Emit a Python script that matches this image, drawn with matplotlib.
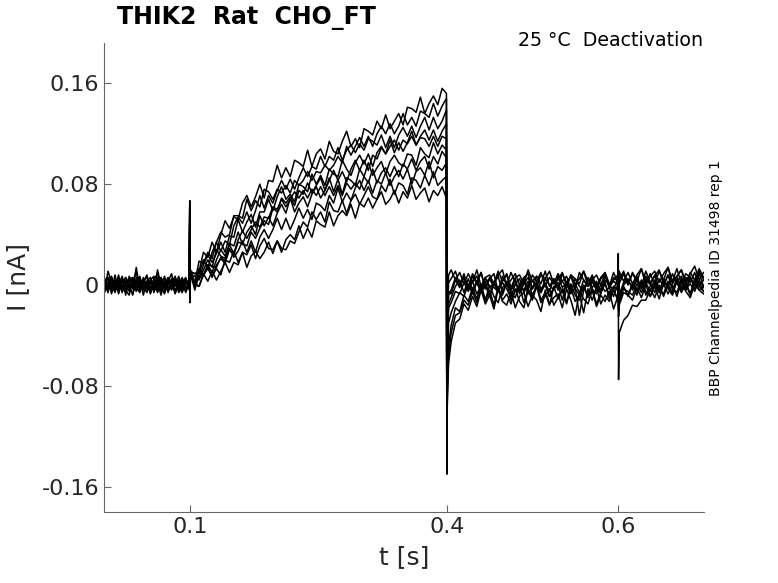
import numpy as np
import matplotlib.pyplot as plt

# current traces in pA, one row per sweep
# baseline before the step (0 .. 0.0995 s)
pre_vals = [
    [3, -5, 6, -2, 8, -6, 1, 5, -3, 14, -4, 2, 7, -7, 4, -1, 6, -5, 3, 9, -6, 2, -3, 5, -1],
    [-2, 6, -7, 3, 0, 7, -4, -8, 5, 2, -5, 6, -1, 4, -6, 12, 0, 7, -3, 2, -7, 4, 1, -5, 3],
    [5, 0, -4, 8, -5, 2, 6, -2, -7, 3, 7, -3, 1, -6, 4, 9, -1, -7, 3, 0, 5, -4, 2, 6, -3],
    [-5, 11, 2, -6, 6, -1, -4, 7, 0, -3, 5, -8, 3, 6, -2, -5, 2, 5, -6, 3, -1, 7, -4, 0, 4],
    [2, -6, 5, 0, -3, 6, -8, 3, 5, -2, -6, 2, 8, -3, 0, 4, -5, 1, 6, -2, 3, -6, 0, 5, -4],
    [0, 6, -3, -5, 4, -2, 3, 0, -8, 6, 2, -3, -5, 4, 7, -6, 3, -2, 0, 5, -4, 1, 6, -3, 2],
    [-3, 2, 7, -4, -1, 5, 0, -5, 3, 10, -3, 4, 0, -6, 2, -3, 6, 0, -5, 2, 7, -2, -6, 3, 1],
    [6, -3, 0, 4, -7, 3, 5, -3, 2, -5, 3, 0, -6, 4, -3, 2, -8, 3, 1, -4, 5, -1, 3, -6, 2],
    [-6, 2, -2, 3, 1, -5, 6, 1, -3, 0, 6, -4, 3, -2, 5, -5, 2, -3, 4, 2, -6, 1, 4, -2, 0],
    [2, -2, 3, -5, 4, 0, -6, 5, 6, -4, 0, 3, -3, 2, -5, 6, -3, 2, -2, -3, 4, -1, -5, 3, 1],
]

# capacitive transient at step onset
onset_t = [0.1, 0.1003]
onset_vals = [[67, -14], [60, -10], [55, -12], [62, -8], [50, -11],
              [58, -9], [45, -13], [52, -7], [48, -10], [40, -6]]

# during the step (0.1008 .. 0.3995 s)
step_vals = [
    [10, 9, 11, 26, 22, 34, 26, 40, 51, 45, 54, 52, 65, 71, 62, 70, 80, 69, 83, 82,
     95, 85, 93, 86, 99, 97, 94, 107, 94, 104, 108, 100, 114, 106, 104, 114, 122, 110, 116, 109,
     124, 122, 119, 130, 124, 135, 124, 130, 136, 127, 141, 140, 137, 149, 136, 144, 150, 143, 156, 152],
    [12, 2, 19, 17, 26, 21, 34, 42, 38, 40, 55, 55, 53, 68, 59, 67, 62, 76, 74, 68,
     76, 73, 79, 73, 83, 79, 83, 90, 83, 90, 89, 95, 91, 95, 102, 97, 110, 103, 110, 117,
     110, 118, 110, 120, 126, 120, 128, 120, 126, 136, 127, 133, 126, 138, 136, 133, 144, 134, 142, 148],
    [11, 9, 9, 20, 13, 26, 34, 27, 35, 32, 47, 54, 49, 58, 49, 59, 71, 61, 71, 65,
     75, 83, 76, 84, 76, 85, 93, 86, 94, 92, 102, 94, 102, 99, 109, 99, 107, 111, 105, 112,
     107, 116, 114, 111, 119, 109, 118, 109, 119, 125, 118, 126, 117, 126, 133, 123, 133, 124, 130, 139],
    [8, 7, 5, 16, 24, 18, 25, 34, 26, 39, 38, 52, 42, 50, 56, 46, 58, 58, 68, 59,
     70, 78, 68, 72, 66, 80, 78, 74, 88, 80, 87, 79, 92, 88, 86, 99, 92, 87, 97, 103,
     96, 104, 94, 105, 110, 104, 115, 105, 113, 106, 113, 122, 111, 118, 123, 115, 123, 114, 122, 128],
    [12, 0, 13, 8, 16, 15, 14, 22, 19, 28, 24, 34, 33, 31, 42, 37, 45, 51, 48, 61,
     58, 69, 65, 70, 63, 75, 72, 81, 73, 79, 85, 75, 83, 91, 83, 90, 82, 92, 99, 91,
     99, 91, 103, 100, 109, 104, 110, 115, 107, 115, 112, 118, 111, 117, 116, 110, 118, 110, 118, 116],
    [7, 7, 4, 12, 20, 14, 28, 23, 21, 33, 31, 42, 32, 42, 47, 40, 55, 47, 54, 47,
     57, 64, 57, 69, 58, 65, 70, 62, 72, 78, 69, 75, 85, 74, 84, 72, 85, 83, 79, 92,
     86, 97, 87, 93, 98, 88, 98, 103, 97, 94, 104, 103, 95, 109, 104, 101, 113, 104, 111, 107],
    [10, -2, 13, 8, 16, 10, 20, 28, 23, 32, 25, 36, 43, 37, 44, 50, 46, 54, 53, 62,
     60, 68, 62, 68, 74, 69, 75, 69, 76, 71, 78, 71, 78, 71, 79, 71, 81, 76, 81, 76,
     86, 81, 92, 81, 89, 93, 86, 94, 86, 96, 92, 100, 91, 98, 102, 92, 102, 96, 106, 101],
    [10, -4, 8, 7, 15, 6, 16, 21, 17, 29, 22, 27, 35, 26, 35, 26, 38, 44, 37, 44,
     53, 44, 53, 44, 52, 61, 53, 60, 52, 65, 63, 59, 71, 65, 77, 66, 73, 67, 77, 83,
     75, 83, 73, 83, 80, 89, 79, 86, 91, 84, 92, 80, 90, 93, 87, 98, 85, 94, 91, 97],
    [7, 2, -1, 8, 13, 7, 13, 8, 20, 18, 27, 18, 26, 24, 32, 21, 31, 37, 29, 28,
     35, 29, 28, 35, 33, 42, 50, 46, 58, 52, 58, 50, 66, 59, 58, 67, 57, 67, 72, 64,
     71, 78, 70, 68, 79, 74, 84, 72, 81, 79, 72, 85, 83, 77, 87, 79, 90, 79, 83, 86],
    [8, 0, -1, 9, 3, 11, 4, 11, 18, 10, 18, 16, 26, 14, 23, 27, 21, 26, 34, 25,
     35, 26, 36, 40, 36, 47, 37, 45, 38, 51, 48, 46, 58, 47, 55, 59, 55, 64, 53, 65,
     62, 69, 61, 68, 74, 64, 68, 75, 65, 74, 69, 79, 68, 73, 77, 66, 75, 71, 78, 69],
]

# tail transient at step offset
offset_t = [0.4, 0.4005, 0.402]
offset_vals = [[-150, -95, -62], [-146, -80, -48], [-148, -88, -55], [-140, -40, -8],
               [-142, -50, -15], [-138, -30, 2], [-145, -65, -30], [-135, -20, 8],
               [-140, -35, -5], [-143, -45, -18]]

# after the step (0.405 .. 0.5995 s)
post1_vals = [
    [-45, -30, -27, -15, -20, -9, -17, -4, -15, -8, -19, -3, -13, -16, -5, -18, -9, -6, -17, -8,
     -12, -21, -4, -15, -10, -7, -18, -3, -12, -24, -6, -11, -15, -4, -17, -8, -13, -5, -19, -9],
    [-32, -18, -21, -8, -13, -2, -11, 1, -12, 0, -9, -14, -2, 2, -12, -5, 0, -14, -3, -10,
     1, -12, -6, -16, -1, -11, -3, -14, 1, -8, -12, -1, -10, -3, -15, -6, 2, -11, -4, -12],
    [-38, -24, -22, -12, -16, -5, -14, -2, -13, -4, -16, -1, -12, -7, -15, -3, -13, -18, -4, -12,
     -1, -14, -9, -3, -16, -10, -4, -15, -2, -13, -7, -22, -3, -12, -2, -15, -8, -13, -4, -11],
    [-4, 6, -1, 9, -4, 7, 1, 10, -3, 5, 9, -5, 7, 0, 10, 2, -4, 6, 9, -3,
     7, 1, 11, -1, 5, -4, 9, 2, 7, -3, 10, 4, -1, 8, -5, 5, 8, -1, 10, 2],
    [-10, -1, 4, -6, 5, -4, 3, -6, 6, -2, 1, 7, -6, 3, -4, 5, -7, 1, 6, -3,
     2, -6, 5, 0, -4, 7, -2, 2, -6, 5, -1, -4, 6, -2, 3, -7, 4, 0, -4, 6],
    [5, 11, 0, 7, -2, 9, 2, 10, -3, 6, 1, 8, 12, -1, 4, 9, 0, 6, -3, 8,
     3, 10, -1, 6, 1, 9, 3, -2, 8, 1, 5, 11, -1, 4, 8, 0, 9, -3, 6, 3],
    [-22, -13, -6, -9, 1, -7, 2, -6, 0, -9, 3, -5, -8, 2, -6, -10, 0, -4, 3, -8,
     -1, -6, 2, -9, -3, 0, -12, 2, -6, -3, -8, 0, -9, 3, -4, -6, 1, -8, -1, -4],
    [12, 4, 10, 1, 9, 2, 12, -1, 6, 8, 1, 11, 3, 9, -2, 6, 8, 1, 12, 3,
     0, 8, 5, 11, 1, 4, 10, -1, 8, 5, 1, 11, 3, 7, -1, 6, 10, 1, 4, 8],
    [-7, 4, -2, 6, -4, 3, 7, -5, 2, 5, -2, -5, 3, 8, -4, 1, 5, -6, 0, 3,
     7, -3, 1, -5, 5, -1, 3, 7, -4, 1, -6, 4, -1, 5, 1, -4, 7, -1, 3, 0],
    [-14, -5, -7, 2, -5, 3, -7, -1, 3, -9, 1, -5, 2, -3, -10, 1, -5, 4, -7, -2,
     2, -5, 0, -9, -2, 2, -6, 1, -7, -2, -24, -4, 2, -3, -7, 0, -5, -2, -9, 1],
]

# artefact at 0.6 s
art_t = [0.6, 0.6003]
art_vals = [[25, -75], [10, -20], [6, -25], [12, -10], [8, -14],
            [10, -6], [5, -18], [12, -4], [6, -12], [4, -16]]

# end of sweep (0.601 .. 0.6995 s)
post2_vals = [
    [-38, -28, -24, -16, -17, -12, -12, -3, -10, 0, -9, 1, -7, 3, -6, 1, -8, 4, -4, -1],
    [-14, -1, -9, 1, -8, 3, -5, -9, 1, -6, 5, -3, -8, 4, -5, 2, -7, 5, -1, -5],
    [-16, -6, -8, -12, -2, -10, 0, -9, -1, -11, 1, -7, 0, -9, 3, -5, -10, 1, -4, -7],
    [1, 9, 0, 10, 3, -1, 11, 2, 7, 12, 0, 8, 3, 13, 1, 9, 6, -1, 11, 4],
    [-8, 2, 5, -4, 4, -3, 7, 1, -6, 5, -1, 8, -3, 3, 7, -4, 5, 0, 9, -1],
    [4, 11, 1, 9, 3, 13, 0, 7, 11, 2, 9, 14, 3, 7, 12, 0, 10, 4, 13, 6],
    [-11, -2, -8, 1, -5, 4, -8, -1, 2, -6, 5, -2, -5, 6, -1, -4, 7, -3, 2, -5],
    [11, 3, 10, 1, 8, 13, 2, 9, 0, 11, 4, 14, 1, 7, 12, 3, 9, 15, 4, 10],
    [-10, 0, 4, -2, 7, -3, 5, 0, 8, -4, 3, -1, 9, 1, -3, 6, 2, 10, -1, 4],
    [-12, -3, -5, -8, 1, -6, 2, -5, 4, -4, -7, 3, -2, -6, 5, -3, 1, -5, 4, -2],
]

x_ticks = [0.1, 0.4, 0.6]
x_ticklabels = ['0.1', '0.4', '0.6']
y_ticks = [-0.16, -0.08, 0, 0.08, 0.16]
y_ticklabels = ['-0.16', '-0.08', '0', '0.08', '0.16']

fig = plt.figure(figsize=(7.78, 5.83), dpi=100)
ax = fig.add_axes([0.1337, 0.1218, 0.7712, 0.8045])

for k in range(len(pre_vals)):
    t = np.concatenate([
        np.linspace(0.0005, 0.0995, len(pre_vals[k])),
        onset_t,
        np.linspace(0.1008, 0.3995, len(step_vals[k])),
        offset_t,
        np.linspace(0.405, 0.5995, len(post1_vals[k])),
        art_t,
        np.linspace(0.601, 0.6995, len(post2_vals[k])),
    ])
    y = np.concatenate([pre_vals[k], onset_vals[k], step_vals[k], offset_vals[k],
                        post1_vals[k], art_vals[k], post2_vals[k]]) / 1000.0
    ax.plot(t, y, color='black', lw=1.1)

ax.set_xlim(0, 0.7)
ax.set_ylim(-0.18, 0.192)
ax.set_xticks(x_ticks)
ax.set_xticklabels(x_ticklabels)
ax.set_yticks(y_ticks)
ax.set_yticklabels(y_ticklabels)
ax.tick_params(direction='in', length=5, width=0.8, colors='#666666',
               labelcolor='#262626', labelsize=16)
for s in ['top', 'right']:
    ax.spines[s].set_visible(False)
for s in ['left', 'bottom']:
    ax.spines[s].set_color('#666666')
    ax.spines[s].set_linewidth(0.8)

ax.set_xlabel('t [s]', fontsize=18, color='#262626', labelpad=6)
ax.set_ylabel('I [nA]', fontsize=18, color='#262626', labelpad=8)

fig.text(117 / 778, 1 - 18 / 583, 'THIK2  Rat  CHO_FT', fontsize=17, fontweight='bold',
         ha='left', va='center')
fig.text(703 / 778, 1 - 40 / 583, '25 °C  Deactivation', fontsize=13.7,
         ha='right', va='center')
fig.text(716 / 778, 1 - 278 / 583, 'BBP Channelpedia ID 31498 rep 1', fontsize=10,
         rotation=90, ha='center', va='center')

fig.savefig('out.png', dpi=100)
